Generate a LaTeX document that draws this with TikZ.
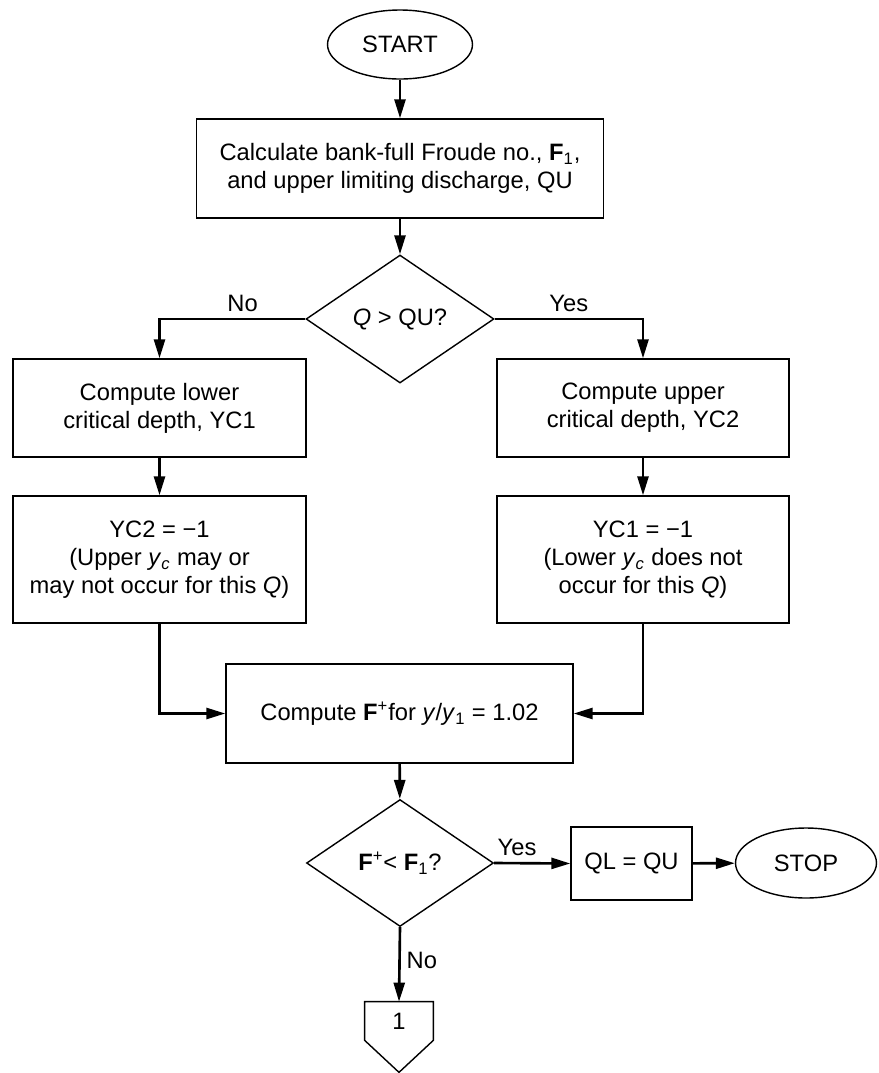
\documentclass[tikz,border=0pt]{standalone}
\usepackage{fontspec}
\setmainfont{Liberation Sans}
\usepackage{tikz}
\usetikzlibrary{shapes.geometric, positioning, calc, arrows.meta}

\begin{document}
\begin{tikzpicture}[x=0.02cm, y=-0.02cm,
    every node/.style={font=\fontsize{13.5}{16}\selectfont},
    proc/.style={draw, line width=0.8pt, rectangle, align=center, inner sep=2pt},
    term/.style={draw, line width=0.8pt, ellipse, inner sep=0pt, minimum width=2.9cm, minimum height=1.38cm},
    decide/.style={draw, line width=0.8pt, diamond, aspect=1.47, inner sep=0pt, minimum width=3.76cm, minimum height=2.56cm},
    flow/.style={line width=1.5pt, -{Triangle[length=0.38cm, width=0.22cm]}}]
    \useasboundingbox (0,0) rectangle (879,1073);

    % Start and first calculation
    \node[term] (start) at (400,44.5) {START};
    \node[proc, minimum width=8.14cm, minimum height=1.98cm] (bankfull) at (400,168.5)
        {Calculate bank-full Froude no., \textbf{F}\textsubscript{1},\\ and upper limiting discharge, QU};

    % First decision
    \node[decide] (qtest) at (400,319) {\textit{Q} > QU?};

    % Left branch (No)
    \node[proc, minimum width=5.86cm, minimum height=1.96cm] (lower) at (159.5,408)
        {Compute lower\\ critical depth, YC1};
    \node[proc, minimum width=5.86cm, minimum height=2.54cm] (noupper) at (159.5,559.5)
        {YC2 = −1\\ (Upper \textit{y}\textsubscript{\textit{c}} may or\\ may not occur for this \textit{Q})};

    % Right branch (Yes)
    \node[proc, minimum width=5.84cm, minimum height=1.96cm] (upper) at (643,408)
        {Compute upper\\ critical depth, YC2};
    \node[proc, minimum width=5.84cm, minimum height=2.54cm] (nolower) at (643,559.5)
        {YC1 = −1\\ (Lower \textit{y}\textsubscript{\textit{c}} does not\\ occur for this \textit{Q})};

    % Froude number test
    \node[proc, minimum width=6.94cm, minimum height=1.98cm] (fplus) at (399.5,713.5)
        {Compute \textbf{F}\textsuperscript{+}for \textit{y}/\textit{y}\textsubscript{1} = 1.02};
    \node[decide, minimum width=3.74cm, minimum height=2.54cm] (ftest) at (400,863)
        {\textbf{F}\textsuperscript{+}< \textbf{F}\textsubscript{1}?};
    \node[proc, minimum width=2.42cm, minimum height=1.46cm] (qlqu) at (631.5,863.5) {QL = QU};
    \node[term, minimum width=2.82cm, minimum height=1.40cm] (stop) at (806,863) {STOP};

    % Off-page connector
    \node[minimum width=1.36cm, minimum height=0.76cm, inner sep=0pt] (conn) at (399,1021) {1};
    \draw[line width=0.8pt] (conn.north west) -- (conn.north east) -- (conn.south east)
        -- ($(conn.south)+(0,32)$) -- (conn.south west) -- cycle;

    % Connectors
    \draw[flow] (start) -- (bankfull);
    \draw[flow] (bankfull) -- (qtest);
    \draw[flow] (qtest.west) -| node[above, pos=0.215] (lblno) {No} (lower.north);
    \draw[flow] (qtest.east) -| node[above, pos=0.25] (lblyes) {Yes} (upper.north);
    \draw[flow] (lower) -- (noupper);
    \draw[flow] (upper) -- (nolower);
    \draw[flow] (noupper.south) |- (fplus.west);
    \draw[flow] (nolower.south) |- (fplus.east);
    \draw[flow] (fplus) -- (ftest);
    \draw[flow] (ftest.east) -- node[above, pos=0.3] (lblyes2) {Yes} (qlqu.west);
    \draw[flow] (qlqu) -- (stop);
    \draw[flow] (ftest.south) -- node[right, pos=0.45] (lblno2) {No} (conn.north);
\end{tikzpicture}
\end{document}
